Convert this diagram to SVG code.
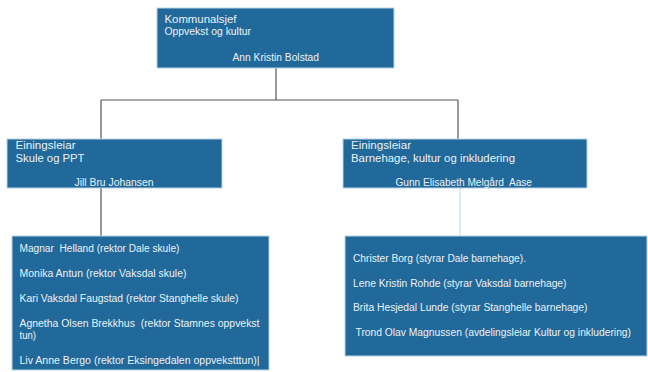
<svg xmlns="http://www.w3.org/2000/svg" width="648" height="372" viewBox="0 0 648 372">
<style>
.box{fill:#21699a;stroke:#b9d3e3;stroke-width:1}
.t{font-family:"Liberation Sans",Arial,sans-serif;font-size:10px;fill:#eaf2f7}
.ln{stroke:#555;stroke-width:1.2;fill:none}
.lt{stroke:#d3e5ef;stroke-width:1.5;fill:none}
</style>
<rect width="648" height="372" fill="#fff"/>
<g id="connectors">
<path class="ln" d="M276 68V100M101 100H458M101 100V139M458 100V139M101 188V236"/>
<path class="lt" d="M460 188V236"/>
</g>
<g id="kommunalsjef">
<rect class="box" x="157" y="8" width="237" height="60"/>
<text class="t" x="164.5" y="23" textLength="72" lengthAdjust="spacingAndGlyphs">Kommunalsjef</text>
<text class="t" x="164.5" y="35" textLength="86.5" lengthAdjust="spacingAndGlyphs">Oppvekst og kultur</text>
<text class="t" x="232.5" y="61" textLength="86.5" lengthAdjust="spacingAndGlyphs">Ann Kristin Bolstad</text>
</g>
<g id="skule">
<rect class="box" x="7" y="139" width="215" height="49"/>
<text class="t" x="15.5" y="149" textLength="60" lengthAdjust="spacingAndGlyphs">Einingsleiar</text>
<text class="t" x="15.5" y="162" textLength="69" lengthAdjust="spacingAndGlyphs">Skule og PPT</text>
<text class="t" x="74.5" y="186" textLength="79" lengthAdjust="spacingAndGlyphs">Jill Bru Johansen</text>
</g>
<g id="barnehage">
<rect class="box" x="343" y="139" width="244" height="49"/>
<text class="t" x="351" y="149" textLength="60" lengthAdjust="spacingAndGlyphs">Einingsleiar</text>
<text class="t" x="351" y="162" textLength="164" lengthAdjust="spacingAndGlyphs">Barnehage, kultur og inkludering</text>
<text class="t" x="395.5" y="186" textLength="136.5" lengthAdjust="spacingAndGlyphs" xml:space="preserve">Gunn Elisabeth Melgård  Aase</text>
</g>
<g id="rektorar">
<rect class="box" x="12" y="236" width="257" height="134"/>
<text class="t" x="19.5" y="252" textLength="160" lengthAdjust="spacingAndGlyphs" xml:space="preserve">Magnar  Helland (rektor Dale skule)</text>
<text class="t" x="19.5" y="277" textLength="167" lengthAdjust="spacingAndGlyphs">Monika Antun (rektor Vaksdal skule)</text>
<text class="t" x="19.5" y="302" textLength="219" lengthAdjust="spacingAndGlyphs">Kari Vaksdal Faugstad (rektor Stanghelle skule)</text>
<text class="t" x="19.5" y="327" textLength="240" lengthAdjust="spacingAndGlyphs" xml:space="preserve">Agnetha Olsen Brekkhus  (rektor Stamnes oppvekst</text>
<text class="t" x="19.5" y="339" textLength="16.5" lengthAdjust="spacingAndGlyphs">tun)</text>
<text class="t" x="19.5" y="364" textLength="240" lengthAdjust="spacingAndGlyphs">Liv Anne Bergo (rektor Eksingedalen oppvekstttun)|</text>
</g>
<g id="styrarar">
<rect class="box" x="345" y="236" width="302" height="120"/>
<text class="t" x="353" y="262" textLength="173" lengthAdjust="spacingAndGlyphs">Christer Borg (styrar Dale barnehage).</text>
<text class="t" x="353" y="287" textLength="213.5" lengthAdjust="spacingAndGlyphs">Lene Kristin Rohde (styrar Vaksdal barnehage)</text>
<text class="t" x="353" y="311" textLength="234.5" lengthAdjust="spacingAndGlyphs">Brita Hesjedal Lunde (styrar Stanghelle barnehage)</text>
<text class="t" x="355.5" y="336" textLength="275.5" lengthAdjust="spacingAndGlyphs">Trond Olav Magnussen (avdelingsleiar Kultur og inkludering)</text>
</g>
</svg>
